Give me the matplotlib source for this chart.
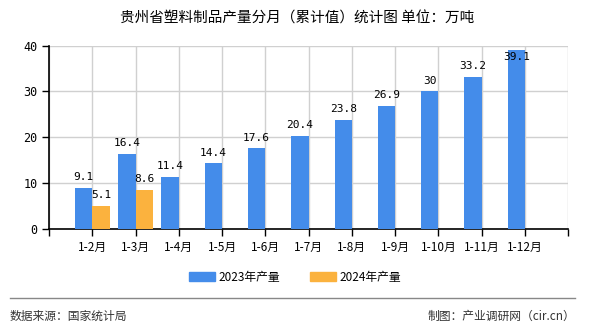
import numpy as np
import matplotlib
matplotlib.use('Agg')
import matplotlib.pyplot as plt

plt.rcParams['font.family'] = ['Noto Sans CJK SC', 'DejaVu Sans']

# --- data ---
months = ['1-2月', '1-3月', '1-4月', '1-5月', '1-6月', '1-7月',
          '1-8月', '1-9月', '1-10月', '1-11月', '1-12月']
prod_2023 = [9.1, 16.4, 11.4, 14.4, 17.6, 20.4, 23.8, 26.9, 30, 33.2, 39.1]
prod_2024 = [5.1, 8.6]
yticks = [0, 10, 20, 30, 40]

c_2023 = '#448CEA'
c_2024 = '#FBB23E'

fig = plt.figure(figsize=(5.9, 3.3), dpi=100)
ax = fig.add_axes([0.083, 0.305, 0.88, 0.557])

x = np.arange(len(months))
w = 0.4
b1 = ax.bar(x - w / 2, prod_2023, width=w, color=c_2023, label='2023年产量', zorder=3)
b2 = ax.bar(x[:len(prod_2024)] + w / 2, prod_2024, width=w, color=c_2024,
            label='2024年产量', zorder=3)

ymax = 40
for bars, vals in ((b1, prod_2023), (b2, prod_2024)):
    for r, v in zip(bars, vals):
        # labels that would run past the top are pushed inside the bar
        if v > ymax - 3:
            off, va = -2, 'top'
        else:
            off, va = 4, 'bottom'
        ax.annotate(f'{v:g}', (r.get_x() + r.get_width() / 2, v),
                    xytext=(0, off), textcoords='offset points',
                    ha='center', va=va, fontsize=8,
                    family='DejaVu Sans Mono', zorder=4)

ax.set_xlim(-1, len(months))
ax.set_ylim(0, ymax)
ax.set_xticks(list(x) + [-1, len(months)])
ax.set_xticklabels(months + ['', ''], fontsize=8.5)
ax.set_yticks(yticks)
ax.set_yticklabels([str(t) for t in yticks], fontsize=8.5, family='DejaVu Sans Mono')
ax.tick_params(axis='both', length=5, width=1, color='black', pad=3)

ax.grid(True, color='#d0d0d0', linewidth=1, zorder=0)
ax.set_axisbelow(True)
for s in ('top', 'right'):
    ax.spines[s].set_visible(False)
ax.spines['left'].set_linewidth(1.2)
ax.spines['bottom'].set_linewidth(1.2)

fig.text(0.503, 0.945, '贵州省塑料制品产量分月（累计值）统计图 单位：万吨',
         ha='center', va='center', fontsize=10.5)

handles = [plt.Rectangle((0, 0), 1, 1, color=c_2023),
           plt.Rectangle((0, 0), 1, 1, color=c_2024)]
fig.legend(handles, ['2023年产量', '2024年产量'], loc='center',
           bbox_to_anchor=(0.5, 0.16), ncol=2, frameon=False, fontsize=8.5,
           handlelength=2.2, handleheight=0.8, columnspacing=2.5, handletextpad=0.3)

fig.add_artist(plt.Line2D([0.017, 0.975], [0.097, 0.097], color='#888888', linewidth=1))
fig.text(0.017, 0.042, '数据来源：国家统计局', ha='left', va='center', fontsize=8.5, color='#333333')
fig.text(0.975, 0.042, '制图：产业调研网（cir.cn）', ha='right', va='center', fontsize=8.5, color='#333333')

fig.savefig('out.png', dpi=100)
